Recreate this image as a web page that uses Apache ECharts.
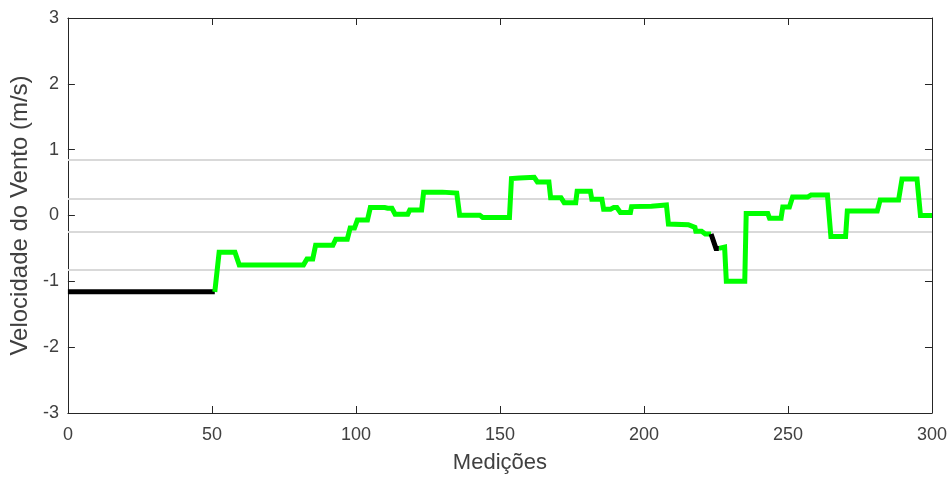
<!DOCTYPE html>
<html>
<head>
<meta charset="utf-8">
<script src="https://cdn.jsdelivr.net/npm/echarts@6/dist/echarts.min.js"></script>
<style>html,body{margin:0;padding:0;background:#fff;}#c{width:950px;height:479px;}</style>
</head>
<body>
<div id="c"></div>
<script>
var xTicks = [0, 50, 100, 150, 200, 250, 300];
var yTicks = [-3, -2, -1, 0, 1, 2, 3];
var refLines = [0.84, 0.25, -0.25, -0.83];

var blackSeg1 = [[0,-1.16],[51,-1.16]];
var greenSeg1 = [[51,-1.16],[52.5,-0.56],[58,-0.56],[59.5,-0.75],[81.8,-0.75],[83,-0.66],[85,-0.66],[86,-0.45],[92,-0.45],[93,-0.36],[97,-0.36],[98,-0.19],[99.5,-0.19],[100.5,-0.07],[104,-0.07],[105,0.12],[110,0.12],[111,0.11],[112.5,0.11],[113.6,0.02],[118,0.02],[118.7,0.085],[122.8,0.085],[123.5,0.355],[130,0.355],[130.5,0.34],[135,0.34],[136,0.005],[143,0.005],[144,-0.03],[153.3,-0.03],[154,0.56],[156.7,0.57],[161.9,0.58],[163,0.51],[167,0.51],[167.6,0.27],[171.2,0.27],[172.3,0.195],[176.3,0.195],[176.8,0.37],[181.4,0.37],[181.9,0.245],[185.4,0.245],[186,0.095],[188.4,0.095],[189.5,0.12],[190.6,0.12],[191.8,0.045],[195.3,0.045],[195.7,0.135],[202.6,0.14],[203,0.16],[207.8,0.16],[208.5,-0.13],[215.4,-0.14],[217.7,-0.18],[218,-0.24],[220,-0.24],[221.3,-0.28],[223.3,-0.28]];
var blackSeg2 = [[223.3,-0.28],[225,-0.5],[226,-0.5]];
var greenSeg2 = [[226,-0.5],[228,-0.48],[228.6,-1.0],[235,-1.0],[235.5,0.03],[243,0.03],[243.6,-0.04],[247.6,-0.04],[248.2,0.13],[250.5,0.13],[251.6,0.28],[256.8,0.28],[258,0.31],[263.7,0.31],[264.9,-0.32],[270,-0.32],[270.6,0.07],[281,0.07],[282,0.235],[288.4,0.235],[289.6,0.555],[294.8,0.555],[296,0],[300,0]];

var axisCol = '#262626';
var textCol = '#404040';
var font = 'Liberation Sans, Arial, sans-serif';

function lineSeries(data, color, z) {
  return {type:'line', data:data, showSymbol:false, symbol:'none', z:z,
    lineStyle:{color:color, width:5, join:'miter'}, animation:false};
}

var chart = echarts.init(document.getElementById('c'));
var series = [
  {type:'line', data:[], xAxisIndex:0, yAxisIndex:0, z:1, animation:false,
   markLine:{silent:true, symbol:'none', z:1, label:{show:false}, animation:false,
     lineStyle:{color:'#d9d9d9', width:2, type:'solid'},
     data: refLines.map(function(v){return {yAxis:v};})}},
  lineSeries(blackSeg1, '#000000', 10),
  lineSeries(greenSeg1, '#00ff00', 10),
  lineSeries(blackSeg2, '#000000', 11),
  lineSeries(greenSeg2, '#00ff00', 10)
];

chart.setOption({
  backgroundColor:'#ffffff',
  animation:false,
  grid:{left:66, right:15, top:18, bottom:61, show:false},
  xAxis:[
    {type:'value', min:0, max:300, interval:50, position:'bottom',
     name:'Medições', nameLocation:'middle', nameGap:39,
     nameTextStyle:{color:textCol, fontSize:22, fontFamily:font},
     axisLine:{show:true, onZero:false, lineStyle:{color:axisCol, width:1}},
     axisTick:{show:true, inside:true, length:7, lineStyle:{color:axisCol}},
     axisLabel:{color:textCol, fontSize:18, fontFamily:font, margin:13},
     splitLine:{show:false}},
    {type:'value', min:0, max:300, interval:50, position:'top',
     axisLine:{show:true, onZero:false, lineStyle:{color:axisCol, width:1}},
     axisTick:{show:true, inside:true, length:7, lineStyle:{color:axisCol}},
     axisLabel:{show:false}, splitLine:{show:false}}
  ],
  yAxis:[
    {type:'value', min:-3, max:3, interval:1, position:'left',
     name:'Velocidade do Vento (m/s)', nameLocation:'middle', nameGap:29,
     nameTextStyle:{color:textCol, fontSize:24, fontFamily:font},
     axisLine:{show:true, onZero:false, lineStyle:{color:axisCol, width:1}},
     axisTick:{show:true, inside:true, length:7, lineStyle:{color:axisCol}},
     axisLabel:{color:textCol, fontSize:18, fontFamily:font, margin:9},
     splitLine:{show:false}},
    {type:'value', min:-3, max:3, interval:1, position:'right',
     axisLine:{show:true, onZero:false, lineStyle:{color:axisCol, width:1}},
     axisTick:{show:true, inside:true, length:7, lineStyle:{color:axisCol}},
     axisLabel:{show:false}, splitLine:{show:false}}
  ],
  series: series
});
</script>
</body>
</html>
